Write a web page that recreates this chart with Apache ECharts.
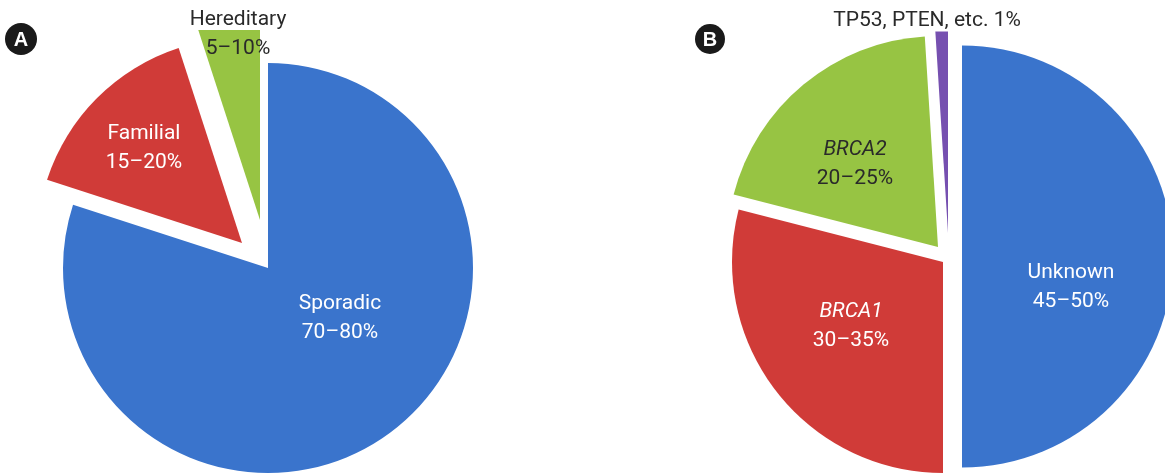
<!DOCTYPE html>
<html>
<head>
<meta charset="utf-8">
<script src="https://cdn.jsdelivr.net/npm/echarts@6/dist/echarts.min.js"></script>
<style>
html,body{margin:0;padding:0;background:#fff;}
#chart{width:1165px;height:475px;}
</style>
</head>
<body>
<div id="chart"></div>
<script>
// ---- Data ----
const catA = ['Sporadic', 'Familial', 'Hereditary'];
const valA = [80, 15, 5];
const rangeA = ['70–80%', '15–20%', '5–10%'];

const catB = ['Unknown', 'BRCA1', 'BRCA2', 'TP53, PTEN, etc.'];
const valB = [50, 29, 20, 1];
const rangeB = ['45–50%', '30–35%', '20–25%', '1%'];

// ---- Styling / layout (not data) ----
const FONT = "Roboto, 'Liberation Sans', sans-serif";
const colA = ['#3a74cc', '#d03b38', '#97c443'];
const colB = ['#3a74cc', '#d03b38', '#97c443', '#7650b0'];
const txtA = ['#ffffff', '#ffffff', '#2a2a2a'];
const txtB = ['#ffffff', '#ffffff', '#2a2a2a', '#2a2a2a'];
const italicB = [false, true, true, false];
const centA = [[268, 268], [242, 243], [260, 220]];
const centB = [[962, 256.5], [943, 262], [938, 247], [948, 233]];
const labA = [[340, 318], [144, 148], [238, 34]];
const labB = [[1071, 287], [851, 326], [855, 164], [927, 21]];
const RA = 205, RB = 211;

function makeSeries(cats, vals, ranges, cols, txts, cents, labs, R, italics, bgFirst) {
  const out = [];
  cats.forEach((c, i) => {
    const data = cats.map((name, j) => ({
      name: name,
      value: vals[j],
      itemStyle: { color: j === i ? cols[j] : 'rgba(0,0,0,0)', borderWidth: 0 },
      label: { show: j === i }
    }));
    const oneLine = bgFirst[i] === 'single';
    const base = { fontFamily: FONT, fontSize: 21, lineHeight: 29, color: txts[i] };
    out.push({
      type: 'pie',
      silent: true,
      center: cents[i],
      radius: R,
      startAngle: 90,
      clockwise: true,
      avoidLabelOverlap: false,
      animation: false,
      labelLine: { show: false },
      emphasis: { disabled: true },
      label: Object.assign({
        position: 'inside',
        align: 'center',
        verticalAlign: 'middle',
        formatter: function (p) {
          if (oneLine) return '{w|' + p.name + ' ' + ranges[p.dataIndex] + '}';
          const first = italics && italics[p.dataIndex] ? '{i|' + p.name + '}' : (bgFirst[i] ? '{w|' + p.name + '}' : '{n|' + p.name + '}');
          return first + '\n{n|' + ranges[p.dataIndex] + '}';
        },
        rich: {
          n: Object.assign({}, base),
          i: Object.assign({}, base, { fontStyle: 'italic' }),
          w: Object.assign({}, base, { backgroundColor: '#ffffff', padding: [0, 4, 0, 4] })
        }
      }, base),
      labelLayout: function (p) {
        if (p.dataIndex !== i) return {};
        return { x: labs[i][0], y: labs[i][1], align: 'center', verticalAlign: 'middle' };
      },
      data: data
    });
  });
  return out;
}

const series = []
  .concat(makeSeries(catA, valA, rangeA, colA, txtA, centA, labA, RA, null, [false, false, true]))
  .concat(makeSeries(catB, valB, rangeB, colB, txtB, centB, labB, RB, italicB, [false, false, false, 'single']));

const chart = echarts.init(document.getElementById('chart'), null, { renderer: 'canvas' });
chart.setOption({
  backgroundColor: '#ffffff',
  animation: false,
  series: series,
  graphic: [
    { type: 'circle', shape: { cx: 21, cy: 39, r: 16 }, style: { fill: '#1a1a1a' }, z: 100 },
    { type: 'text', x: 21, y: 40, style: { text: 'A', fill: '#fff', font: "bold 20px 'Liberation Sans', Arial, sans-serif", align: 'center', verticalAlign: 'middle' }, z: 101 },
    { type: 'circle', shape: { cx: 710, cy: 39, r: 15 }, style: { fill: '#1a1a1a' }, z: 100 },
    { type: 'text', x: 710, y: 40, style: { text: 'B', fill: '#fff', font: "bold 20px 'Liberation Sans', Arial, sans-serif", align: 'center', verticalAlign: 'middle' }, z: 101 }
  ]
});
</script>
</body>
</html>
